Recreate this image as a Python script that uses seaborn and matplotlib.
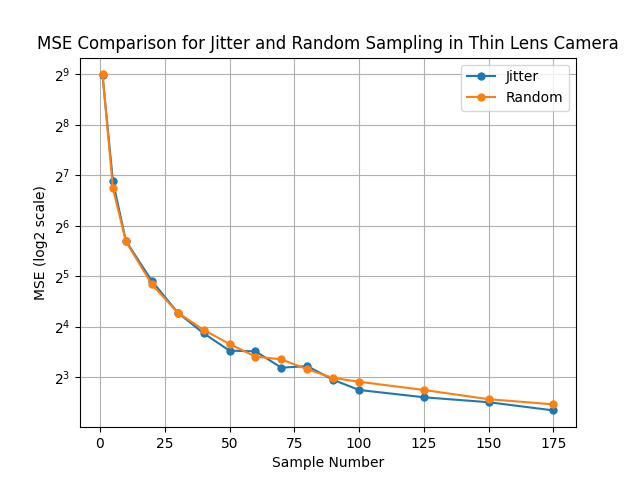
import pandas as pd
import matplotlib
matplotlib.use("Agg")
import matplotlib.pyplot as plt
import seaborn as sns

samples = [1, 5, 10, 20, 30, 40, 50, 60, 70, 80, 90, 100, 125, 150, 175]
jitter_mse = [505, 118, 52, 30, 19.4, 14.6, 11.5, 11.4, 9.1, 9.3, 7.7, 6.7, 6.06, 5.66, 5.06]
random_mse = [512, 107, 51.6, 28.6, 19.4, 15.3, 12.6, 10.6, 10.2, 8.9, 7.9, 7.5, 6.7, 5.9, 5.5]

df = pd.concat([
    pd.DataFrame({'Sample': samples, 'MSE': jitter_mse, 'Method': 'Jitter'}),
    pd.DataFrame({'Sample': samples, 'MSE': random_mse, 'Method': 'Random'}),
])

fig, ax = plt.subplots(figsize=(6.4, 4.8), dpi=100)
sns.lineplot(ax=ax, data=df, x='Sample', y='MSE', hue='Method',
             palette=['#1f77b4', '#ff7f0e'], marker='o', markersize=6,
             markeredgewidth=0)
ax.set_yscale('log', base=2)
ax.grid(True)
ax.set_title('MSE Comparison for Jitter and Random Sampling in Thin Lens Camera')
ax.set_xlabel('Sample Number')
ax.set_ylabel('MSE (log2 scale)')
ax.legend(title=None, loc='upper right')
plt.savefig('out.png')
